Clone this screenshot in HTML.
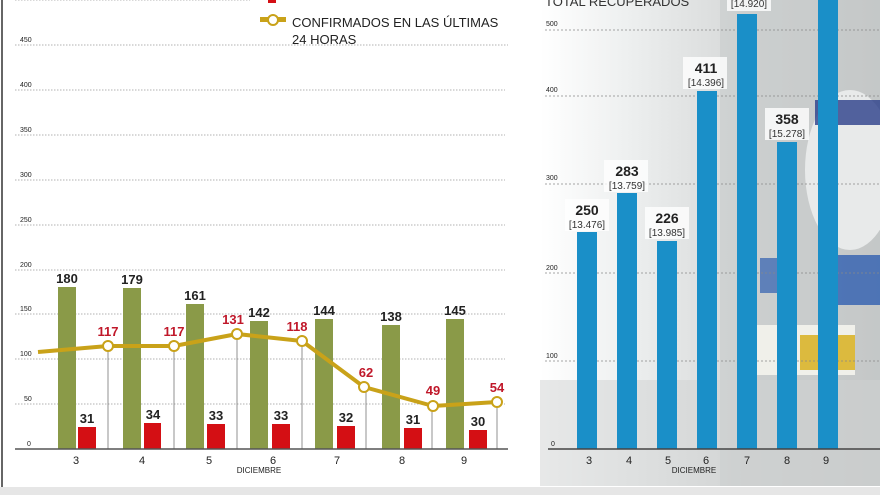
<!DOCTYPE html>
<html><head><meta charset="utf-8"><style>
body{margin:0;width:880px;height:495px;overflow:hidden;background:#fff;font-family:"Liberation Sans",sans-serif}
</style></head><body>
<svg width="880" height="495" xmlns="http://www.w3.org/2000/svg" font-family="Liberation Sans, sans-serif">
<defs>
<linearGradient id="bg" x1="0" x2="1" y1="0" y2="0">
<stop offset="0" stop-color="#fff"/><stop offset="0.25" stop-color="#eef0f0"/><stop offset="0.6" stop-color="#d6d8d8"/><stop offset="1" stop-color="#c9cbcb"/></linearGradient>
</defs>
<rect x="0" y="0" width="880" height="495" fill="#fff"/>
<rect x="540" y="0" width="340" height="486" fill="url(#bg)"/>
<rect x="720" y="0" width="160" height="486" fill="#bfc3c4" opacity="0.4"/>
<ellipse cx="850" cy="170" rx="45" ry="80" fill="#e8eaea"/>
<rect x="815" y="100" width="65" height="25" fill="#2a3f8a" opacity="0.8"/>
<rect x="835" y="255" width="45" height="50" fill="#2f5fb0" opacity="0.8"/>
<rect x="760" y="258" width="18" height="35" fill="#2f5fb0" opacity="0.7"/>
<rect x="745" y="325" width="110" height="50" fill="#f0f0ea"/>
<rect x="800" y="335" width="55" height="35" fill="#d8b020" opacity="0.85"/>
<rect x="540" y="380" width="340" height="106" fill="#cfd1d1" opacity="0.5"/>
<rect x="0" y="487" width="880" height="8" fill="#e6e6e6"/>
<line x1="2" y1="0" x2="2" y2="487" stroke="#666" stroke-width="2"/>
<g stroke="#999" stroke-dasharray="1.5,1.5" stroke-width="0.8">
<line x1="15" y1="0" x2="250" y2="0"/>
<line x1="15" y1="45" x2="508" y2="45"/><line x1="15" y1="90" x2="505" y2="90"/>
<line x1="15" y1="135" x2="505" y2="135"/><line x1="15" y1="180" x2="505" y2="180"/>
<line x1="15" y1="225" x2="505" y2="225"/><line x1="15" y1="270" x2="505" y2="270"/>
<line x1="15" y1="314" x2="505" y2="314"/><line x1="15" y1="359" x2="505" y2="359"/>
<line x1="15" y1="404" x2="505" y2="404"/>
</g>
<g font-size="7" fill="#222">
<text x="20" y="42">450</text><text x="20" y="87">400</text><text x="20" y="132">350</text><text x="20" y="177">300</text>
<text x="20" y="222">250</text><text x="20" y="267">200</text><text x="20" y="311">150</text><text x="20" y="356">100</text>
<text x="24" y="401">50</text><text x="27" y="446">0</text>
</g>
<g stroke="#777" stroke-width="0.8">
<line x1="108" y1="347" x2="108" y2="449"/><line x1="174" y1="347" x2="174" y2="449"/>
<line x1="237" y1="334" x2="237" y2="449"/><line x1="302" y1="343" x2="302" y2="449"/>
<line x1="366" y1="388" x2="366" y2="449"/><line x1="432" y1="406" x2="432" y2="449"/>
<line x1="497" y1="402" x2="497" y2="449"/>
</g>
<g fill="#8a9a48">
<rect x="58" y="287" width="18" height="162"/><rect x="123" y="288" width="18" height="161"/>
<rect x="186" y="304" width="18" height="145"/><rect x="250" y="321" width="18" height="128"/>
<rect x="315" y="319" width="18" height="130"/><rect x="382" y="325" width="18" height="124"/>
<rect x="446" y="319" width="18" height="130"/>
</g>
<g fill="#d40f14">
<rect x="78" y="427" width="18" height="22"/><rect x="144" y="423" width="17" height="26"/>
<rect x="207" y="424" width="18" height="25"/><rect x="272" y="424" width="18" height="25"/>
<rect x="337" y="426" width="18" height="23"/><rect x="404" y="428" width="18" height="21"/>
<rect x="469" y="430" width="18" height="19"/>
</g>
<g font-size="13" font-weight="bold" fill="#222" text-anchor="middle">
<text x="67" y="283">180</text><text x="132" y="284">179</text><text x="195" y="300">161</text>
<text x="259" y="317">142</text><text x="324" y="315">144</text><text x="391" y="321">138</text><text x="455" y="315">145</text>
<text x="87" y="423">31</text><text x="153" y="419">34</text><text x="216" y="420">33</text><text x="281" y="420">33</text>
<text x="346" y="422">32</text><text x="413" y="424">31</text><text x="478" y="426">30</text>
</g>
<path d="M38,352 L108,346 L174,346 L237,334 L302,341 L364,387 L433,406 L497,402" fill="none" stroke="#c9a219" stroke-width="4" stroke-linejoin="round"/>
<g fill="#fff" stroke="#c9a219" stroke-width="2">
<circle cx="108" cy="346" r="5"/><circle cx="174" cy="346" r="5"/><circle cx="237" cy="334" r="5"/>
<circle cx="302" cy="341" r="5"/><circle cx="364" cy="387" r="5"/><circle cx="433" cy="406" r="5"/><circle cx="497" cy="402" r="5"/>
</g>
<g font-size="13" font-weight="bold" fill="#c0182a" text-anchor="middle">
<text x="108" y="336">117</text><text x="174" y="336">117</text><text x="233" y="324">131</text>
<text x="297" y="331">118</text><text x="366" y="377">62</text><text x="433" y="395">49</text><text x="497" y="392">54</text>
</g>
<line x1="15" y1="449" x2="508" y2="449" stroke="#555" stroke-width="1.5"/>
<g font-size="11" fill="#222" text-anchor="middle">
<text x="76" y="464">3</text><text x="142" y="464">4</text><text x="209" y="464">5</text><text x="273" y="464">6</text>
<text x="337" y="464">7</text><text x="402" y="464">8</text><text x="464" y="464">9</text>
</g>
<text x="259" y="473" font-size="8" fill="#222" text-anchor="middle">DICIEMBRE</text>
<rect x="268" y="0" width="8" height="3" fill="#d40f14"/>
<rect x="260" y="17" width="26" height="5" fill="#c9a219"/>
<circle cx="273" cy="20" r="5" fill="#fff" stroke="#c9a219" stroke-width="2"/>
<text x="292" y="27" font-size="13" fill="#222">CONFIRMADOS EN LAS ÚLTIMAS</text>
<text x="292" y="44" font-size="13" fill="#222">24 HORAS</text>
<text x="545" y="6" font-size="13" fill="#333">TOTAL RECUPERADOS</text>
<g stroke="#888" stroke-dasharray="2,2" stroke-width="0.8">
<line x1="545" y1="30" x2="880" y2="30"/><line x1="545" y1="96" x2="880" y2="96"/>
<line x1="545" y1="184" x2="880" y2="184"/><line x1="545" y1="273" x2="880" y2="273"/>
<line x1="545" y1="361" x2="880" y2="361"/>
</g>
<g font-size="7" fill="#222">
<text x="546" y="26">500</text><text x="546" y="92">400</text><text x="546" y="180">300</text>
<text x="546" y="270">200</text><text x="546" y="358">100</text><text x="551" y="446">0</text>
</g>
<g fill="#1a8fc8">
<rect x="577" y="232" width="20" height="217"/><rect x="617" y="193" width="20" height="256"/>
<rect x="657" y="241" width="20" height="208"/><rect x="697" y="91" width="20" height="358"/>
<rect x="737" y="14" width="20" height="435"/><rect x="777" y="142" width="20" height="307"/>
<rect x="818" y="0" width="20" height="449"/>
</g>
<g fill="#fff" opacity="0.8">
<rect x="565" y="199" width="44" height="32"/><rect x="604" y="160" width="44" height="32"/>
<rect x="645" y="207" width="44" height="32"/><rect x="683" y="57" width="44" height="32"/>
<rect x="727" y="0" width="44" height="11"/><rect x="765" y="108" width="44" height="32"/>
</g>
<g font-size="14" font-weight="bold" fill="#222" text-anchor="middle">
<text x="587" y="215">250</text><text x="627" y="176">283</text><text x="667" y="223">226</text>
<text x="706" y="73">411</text><text x="787" y="124">358</text>
</g>
<g font-size="10" fill="#333" text-anchor="middle">
<text x="587" y="228">[13.476]</text><text x="627" y="189">[13.759]</text><text x="667" y="236">[13.985]</text>
<text x="706" y="86">[14.396]</text><text x="749" y="7">[14.920]</text><text x="787" y="137">[15.278]</text>
</g>
<line x1="548" y1="449" x2="880" y2="449" stroke="#444" stroke-width="1.5"/>
<g font-size="11" fill="#222" text-anchor="middle">
<text x="589" y="464">3</text><text x="629" y="464">4</text><text x="668" y="464">5</text><text x="706" y="464">6</text>
<text x="747" y="464">7</text><text x="787" y="464">8</text><text x="826" y="464">9</text>
</g>
<text x="694" y="473" font-size="8" fill="#222" text-anchor="middle">DICIEMBRE</text>
</svg>
</body></html>
